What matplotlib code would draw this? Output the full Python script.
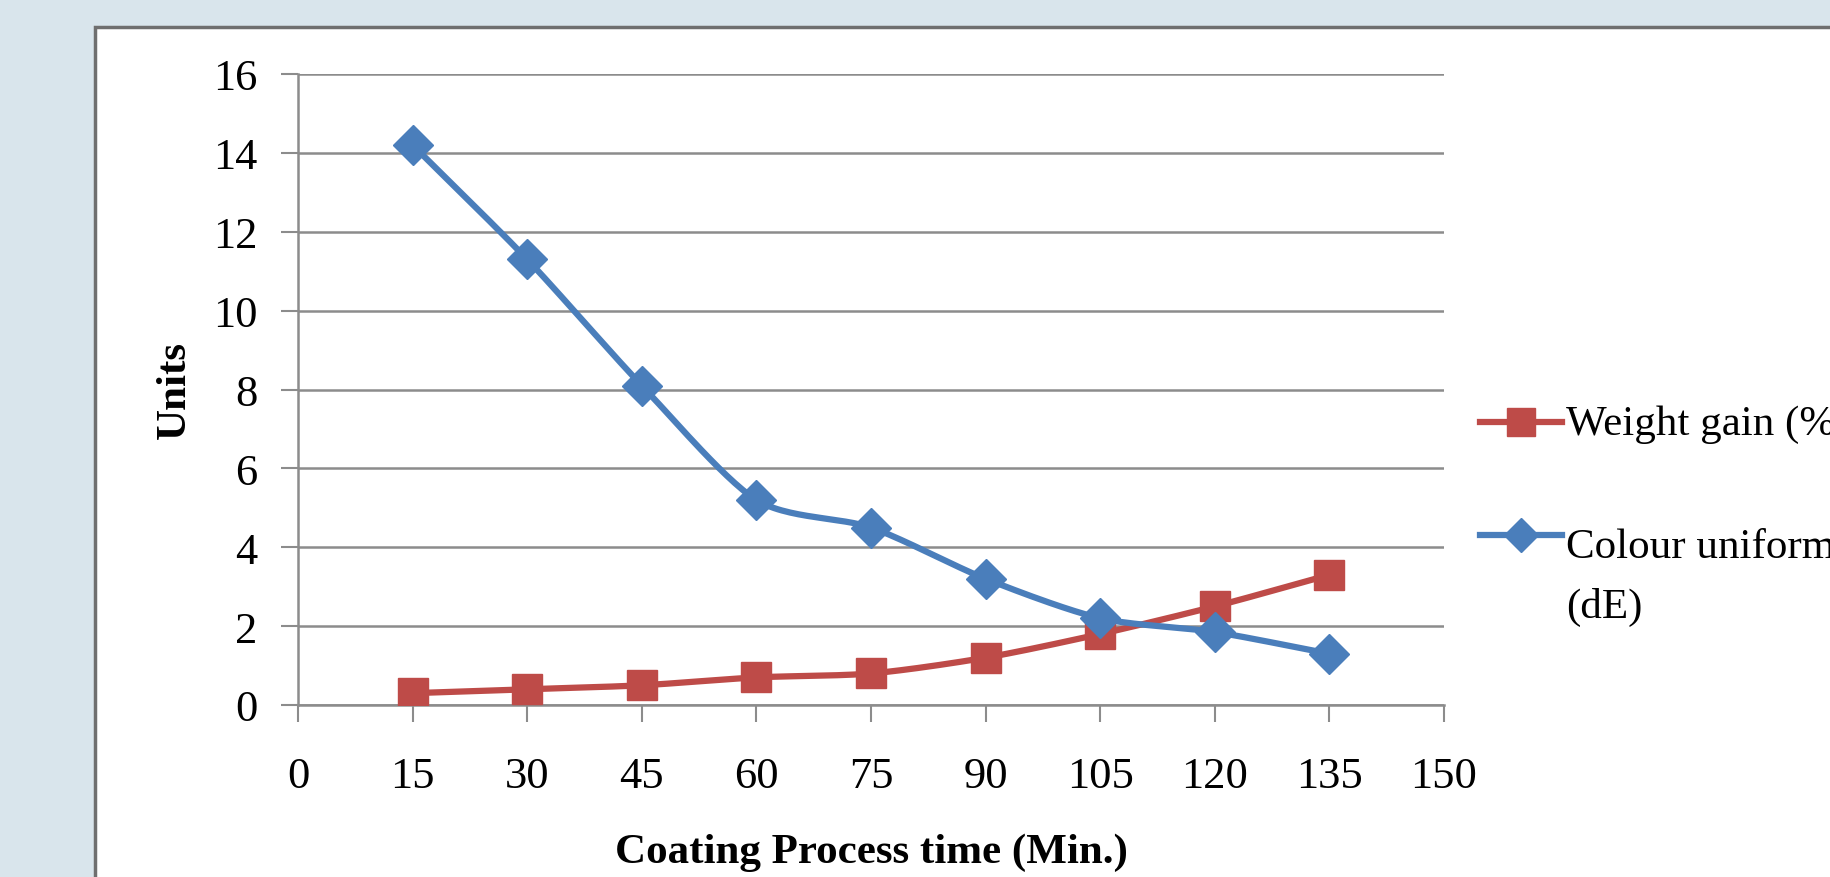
import numpy as np
import matplotlib
matplotlib.use("Agg")
import matplotlib.pyplot as plt
from matplotlib.patches import Rectangle
from matplotlib.lines import Line2D

times = [15, 30, 45, 60, 75, 90, 105, 120, 135]
weight_gain = [0.3, 0.4, 0.5, 0.7, 0.8, 1.2, 1.8, 2.5, 3.3]
colour_uniformity = [14.2, 11.3, 8.1, 5.2, 4.5, 3.2, 2.2, 1.85, 1.3]
series_names = ["Weight gain (%)", "Colour uniformity\n(dE)"]

x_ticks = [0, 15, 30, 45, 60, 75, 90, 105, 120, 135, 150]
y_ticks = [0, 2, 4, 6, 8, 10, 12, 14, 16]

red = "#be4b48"
blue = "#4a7ebb"
grid_c = "#8c8c8c"

plt.rcParams["font.family"] = ["Liberation Serif", "DejaVu Serif"]


def smooth(x, y, n=30):
    # catmull-rom style curve through the points, like Excel's smoothed line
    x = np.asarray(x, float)
    y = np.asarray(y, float)
    px = np.concatenate([[2 * x[0] - x[1]], x, [2 * x[-1] - x[-2]]])
    py = np.concatenate([[2 * y[0] - y[1]], y, [2 * y[-1] - y[-2]]])
    xs, ys = [], []
    t = np.linspace(0, 1, n)
    for i in range(1, len(px) - 2):
        for p, out in ((px, xs), (py, ys)):
            p0, p1, p2, p3 = p[i - 1], p[i], p[i + 1], p[i + 2]
            m1 = (p2 - p0) / 2 * 0.8
            m2 = (p3 - p1) / 2 * 0.8
            h00 = 2 * t**3 - 3 * t**2 + 1
            h10 = t**3 - 2 * t**2 + t
            h01 = -2 * t**3 + 3 * t**2
            h11 = t**3 - t**2
            out.extend(h00 * p1 + h10 * m1 + h01 * p2 + h11 * m2)
    return np.array(xs), np.array(ys)


W, H = 1830, 878
fig = plt.figure(figsize=(W / 100, H / 100), dpi=100)
fig.patch.set_facecolor("#d9e5ec")
fig.add_artist(Rectangle((95 / W, -0.1), 1.0, 1.1 - 28 / H,
                         transform=fig.transFigure, facecolor="white",
                         edgecolor="#6f6f6f", linewidth=2.5, zorder=0))

ax = fig.add_axes([298 / W, 1 - 706 / H, 1146 / W, 631 / H])
ax.set_facecolor("none")

lw = 4.5
sx, sy = smooth(times, weight_gain)
ax.plot(sx, sy, color=red, lw=lw, zorder=3)
ax.plot(times, weight_gain, ls="none", marker="s", ms=22, color=red, zorder=4)
sx, sy = smooth(times, colour_uniformity)
ax.plot(sx, sy, color=blue, lw=lw, zorder=3)
ax.plot(times, colour_uniformity, ls="none", marker="D", ms=20, color=blue, zorder=4)

ax.set_xlim(0, 150)
ax.set_ylim(0, 16)
ax.set_xticks(x_ticks)
ax.set_yticks(y_ticks)
ax.tick_params(labelsize=32, colors=grid_c, labelcolor="black", width=1.5, length=12)
ax.tick_params(axis="y", pad=17)
ax.tick_params(axis="x", pad=25)
ax.yaxis.grid(True, color=grid_c, lw=1.8)
ax.set_axisbelow(True)
for s in ["top", "right"]:
    ax.spines[s].set_visible(False)
for s in ["left", "bottom"]:
    ax.spines[s].set_color(grid_c)
    ax.spines[s].set_linewidth(1.8)

ax.set_ylabel("Units", fontsize=31, fontweight="bold", labelpad=14)
ax.set_xlabel("Coating Process time (Min.)", fontsize=31, fontweight="bold", labelpad=26)

# legend to the right of the plot, clipped by the panel edge as in the source
legend_rows = [(series_names[0], red, "s", 20, 423, 435),
               (series_names[1], blue, "D", 17, 536, 618)]
for name, col, mk, ms, yc, base in legend_rows:
    fig.add_artist(Line2D([1480 / W, 1562 / W], [1 - yc / H] * 2,
                          transform=fig.transFigure, color=col, lw=lw))
    fig.add_artist(Line2D([1521 / W], [1 - yc / H], transform=fig.transFigure,
                          color=col, marker=mk, ms=ms, ls="none"))
    fig.text(1566 / W, 1 - base / H, name, fontsize=31, va="baseline",
             ha="left", linespacing=1.7)

fig.savefig("out.png", dpi=100, facecolor=fig.get_facecolor())
